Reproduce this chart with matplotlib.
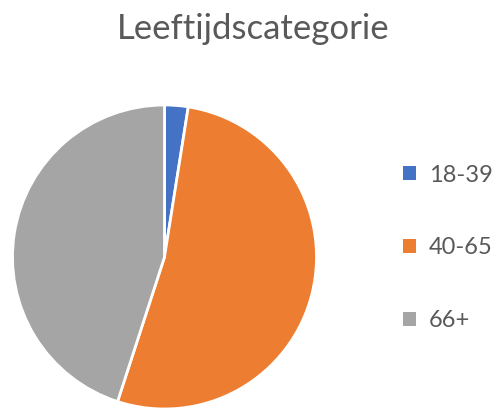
import matplotlib.pyplot as plt
from matplotlib.patches import Patch

# Data
categories = ['18-39', '40-65', '66+']
shares = [2.5, 52.5, 45.0]
colors = ['#4472C4', '#ED7D31', '#A5A5A5']

plt.rcParams['font.family'] = ['Lato', 'DejaVu Sans']

W, H = 496, 409
fig = plt.figure(figsize=(W / 100, H / 100), dpi=100)

# pie area: center (164.5, 257) px, radius 152 px
cx, cy, r = 164.5, 257, 152
ax = fig.add_axes([(cx - r) / W, (H - cy - r) / H, 2 * r / W, 2 * r / H])
wedges, _ = ax.pie(shares, colors=colors, startangle=90, counterclock=False,
                   wedgeprops=dict(edgecolor='white', linewidth=2))
for w in wedges:
    w.set_clip_on(False)
ax.set_xlim(-1, 1)
ax.set_ylim(-1, 1)
ax.set_aspect('equal')

fig.text(253 / W, 1 - 29 / H, 'Leeftijdscategorie', ha='center', va='center',
         fontsize=25, color='#595959')

handles = [Patch(facecolor=c, edgecolor='none') for c in colors]
fig.legend(handles, categories, loc='center left', bbox_to_anchor=(403 / W, 1 - 248 / H),
           frameon=False, fontsize=17, labelcolor='#595959', labelspacing=2.2,
           handlelength=0.55, handleheight=0.55, handletextpad=0.55,
           borderpad=0, borderaxespad=0)

fig.savefig('out.png', dpi=100)
